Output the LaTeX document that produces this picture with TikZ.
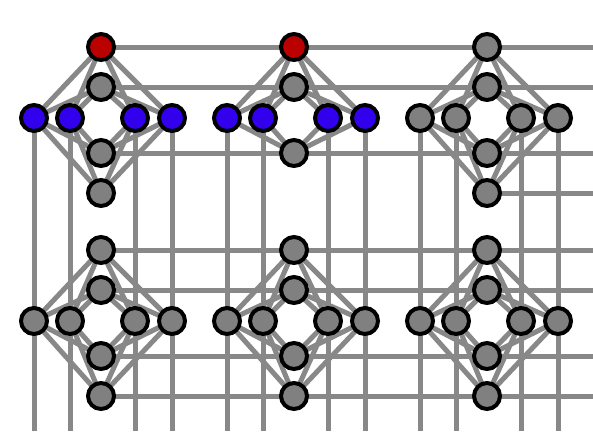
\documentclass[tikz,border=0pt]{standalone}
\usetikzlibrary{backgrounds}
\definecolor{edgegray}{HTML}{888888}
\definecolor{qgray}{HTML}{808080}
\definecolor{qred}{HTML}{BB0000}
\definecolor{qblue}{HTML}{3300EE}
\begin{document}
\begin{tikzpicture}[x=1pt,y=-1pt,
  qubit/.style={circle,draw=black,line width=4pt,minimum size=26pt,inner sep=0pt,fill=qgray},
  coupler/.style={draw=edgegray,line width=5pt}]
\useasboundingbox (0,0) rectangle (593,431);
% qubits
\foreach \i in {0,1,2}{
  \foreach \j in {0,1}{
    \pgfmathsetmacro\cx{101+193*\i}
    \pgfmathsetmacro\cy{47+203*\j}
    % vertical-column qubits
    \foreach \k/\dy in {0/0,1/40,2/106,3/146}{
      \ifnum\i\j\k=103 \else
        \def\vcol{qgray}%
        \ifnum\j=0 \ifnum\i<2 \ifnum\k=0 \def\vcol{qred}\fi\fi\fi
        \node[qubit,fill=\vcol] (v\i\j\k) at (\cx,\cy+\dy) {};
      \fi
    }
    % horizontal-row qubits
    \foreach \m/\dx in {0/-67,1/-31,2/34,3/71}{
      \def\hcol{qgray}%
      \ifnum\j=0 \ifnum\i<2 \def\hcol{qblue}\fi\fi
      \node[qubit,fill=\hcol] (h\i\j\m) at (\cx+\dx,\cy+71) {};
    }
  }
}
% free ends at the picture's edges
\foreach \j in {0,1}{
  \foreach \k/\dy in {0/0,1/40,2/106,3/146}{
    \coordinate (re\j\k) at (593,47+203*\j+\dy);
  }
}
\foreach \i in {0,1,2}{
  \foreach \m/\dx in {0/-67,1/-31,2/34,3/71}{
    \coordinate (be\i\m) at (101+193*\i+\dx,431);
  }
}
\begin{pgfonlayer}{background}
  % intra-cell couplers
  \foreach \i in {0,1,2}{
    \foreach \j in {0,1}{
      \foreach \k in {0,1,2,3}{
        \ifnum\i\j\k=103 \else
          \foreach \m in {0,1,2,3}{
            \draw[coupler] (v\i\j\k.center) -- (h\i\j\m.center);
          }
        \fi
      }
    }
  }
  % horizontal inter-cell couplers
  \foreach \j in {0,1}{
    \foreach \k in {0,1,2,3}{
      \ifnum\j\k=3
        \draw[coupler] (v2\j\k.center) -- (re\j\k);
      \else
        \draw[coupler] (v0\j\k.center) -- (v1\j\k.center) -- (v2\j\k.center) -- (re\j\k);
      \fi
    }
  }
  % vertical inter-cell couplers
  \foreach \i in {0,1,2}{
    \foreach \m in {0,1,2,3}{
      \draw[coupler] (h\i0\m.center) -- (h\i1\m.center) -- (be\i\m);
    }
  }
\end{pgfonlayer}
\end{tikzpicture}
\end{document}
